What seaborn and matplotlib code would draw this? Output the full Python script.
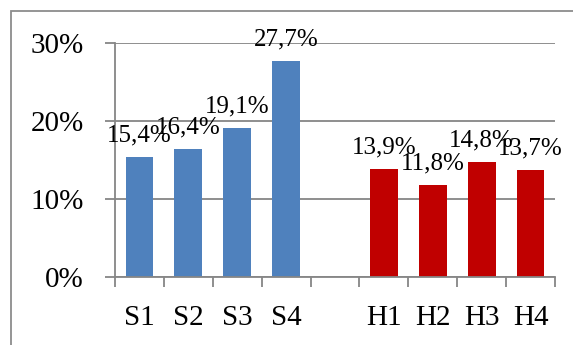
import matplotlib
matplotlib.use("Agg")
import matplotlib.pyplot as plt
import matplotlib.patches as patches
import seaborn as sns
import pandas as pd
import numpy as np

# Chart data
categories = ["S1", "S2", "S3", "S4", "H1", "H2", "H3", "H4"]
values = [15.4, 16.4, 19.1, 27.7, 13.9, 11.8, 14.8, 13.7]
labels = ["15,4%", "16,4%", "19,1%", "27,7%", "13,9%", "11,8%", "14,8%", "13,7%"]
order = ["S1", "S2", "S3", "S4", " ", "H1", "H2", "H3", "H4"]
y_ticks = [0, 10, 20, 30]
y_tick_labels = ["0%", "10%", "20%", "30%"]

blue = "#4F81BD"
red = "#C00000"
grey = "#868686"

sns.set_theme(style="white")
plt.rcParams["font.family"] = ["Liberation Serif", "DejaVu Serif"]

df = pd.DataFrame({"cat": categories, "val": values})
palette = {c: (blue if c.startswith("S") else red) for c in categories}

W, H = 573, 345
fig = plt.figure(figsize=(W / 100, H / 100), dpi=100)
ax = fig.add_axes([115 / W, (H - 277) / H, (555 - 115) / W, (277 - 43) / H])

sns.barplot(data=df, x="cat", y="val", hue="cat", order=order, palette=palette,
            width=0.57, legend=False, ax=ax, saturation=1, edgecolor="none")

ax.set_xlim(-0.5, len(order) - 0.5)
ax.set_ylim(0, 30)
ax.set_yticks(y_ticks)
ax.set_yticklabels(y_tick_labels)
ax.set_xlabel("")
ax.set_ylabel("")

# gridlines
ax.yaxis.grid(True, color=grey, linewidth=1.3)
ax.xaxis.grid(False)
ax.set_axisbelow(True)

for side in ["top", "right"]:
    ax.spines[side].set_visible(False)
for side in ["left", "bottom"]:
    ax.spines[side].set_color(grey)
    ax.spines[side].set_linewidth(1.3)

# y ticks outward
ax.tick_params(axis="y", which="major", direction="out", length=7.5, width=1.3,
               color=grey, labelsize=21, pad=15, left=True, labelcolor="black")
# x: category labels without marks, marks on category boundaries
ax.tick_params(axis="x", which="major", length=0, labelsize=21, pad=20,
               labelcolor="black")
ax.set_xticks(np.arange(-0.5, len(order), 1.0), minor=True)
ax.tick_params(axis="x", which="minor", direction="out", length=7, width=1.3,
               color=grey, bottom=True)

# value labels
for c, v, lab in zip(categories, values, labels):
    xi = order.index(c)
    ax.annotate(lab, xy=(xi, v), xytext=(0, 11), textcoords="offset points",
                ha="center", va="baseline", fontsize=18, color="black")

# outer chart frame
fig.patches.append(patches.Rectangle((11 / W, -0.1), 1.2, 1 - 11 / H + 0.1,
                                     transform=fig.transFigure, fill=False,
                                     edgecolor="#8c8c8c", linewidth=1.3))

fig.savefig("out.png", dpi=100)
